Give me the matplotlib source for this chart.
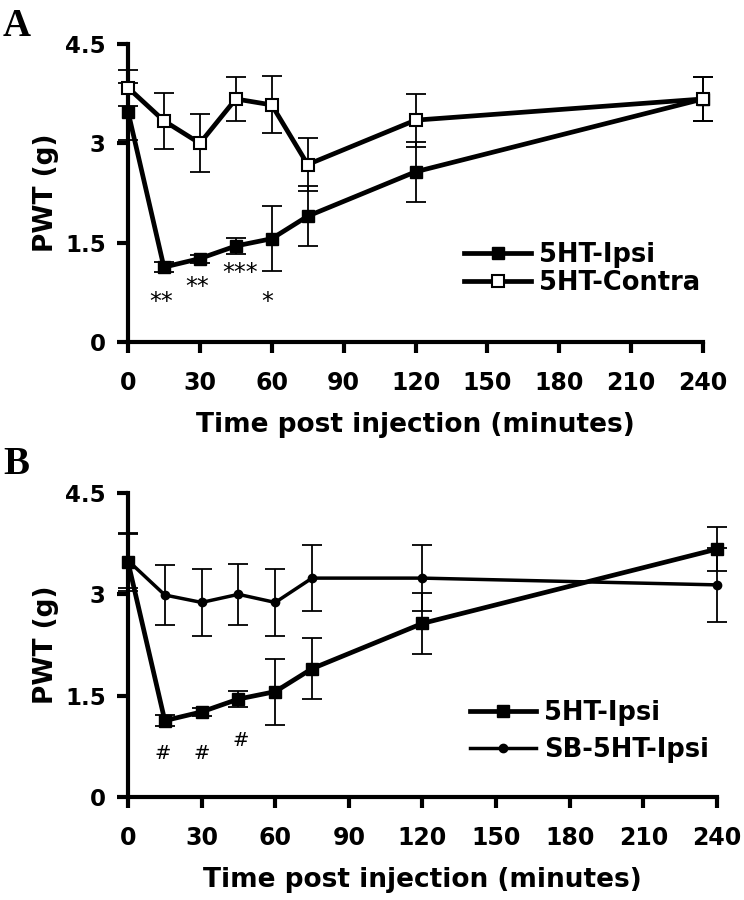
import matplotlib
matplotlib.use("Agg")
import matplotlib.pyplot as plt

# ---- data ----
time_min = [0, 15, 30, 45, 60, 75, 120, 240]
ipsi = [3.48, 1.13, 1.26, 1.45, 1.56, 1.90, 2.57, 3.67]
ipsi_err = [0.43, 0.08, 0.06, 0.12, 0.49, 0.45, 0.45, 0.33]
contra = [3.84, 3.34, 3.00, 3.67, 3.58, 2.68, 3.35, 3.67]
contra_err = [0.27, 0.42, 0.44, 0.33, 0.43, 0.40, 0.40, 0.33]
sb_ipsi = [3.50, 2.99, 2.88, 3.00, 2.88, 3.24, 3.24, 3.14]
sb_ipsi_err = [0.40, 0.44, 0.50, 0.45, 0.50, 0.49, 0.49, 0.55]

sig_a_labels = ["**", "**", "***", "*"]
sig_a_x = [14, 29, 47, 58]
sig_a_y = [0.60, 0.83, 1.04, 0.60]
sig_b_labels = ["#", "#", "#"]
sig_b_x = [14, 30, 46]
sig_b_y = [0.65, 0.65, 0.84]

xticks = [0, 30, 60, 90, 120, 150, 180, 210, 240]
yticks = [0, 1.5, 3, 4.5]
ytick_labels = ["0", "1.5", "3", "4.5"]

W, H = 744, 900
fig = plt.figure(figsize=(W / 100, H / 100), dpi=100)

def px_axes(l, r, t, b):
    return fig.add_axes([l / W, 1 - b / H, (r - l) / W, (b - t) / H])

axA = px_axes(128, 703, 44, 342)
axB = px_axes(128, 717, 493, 797)

def style(ax):
    ax.set_xlim(0, 240)
    ax.set_ylim(0, 4.5)
    for s in ["top", "right"]:
        ax.spines[s].set_visible(False)
    for s in ["left", "bottom"]:
        ax.spines[s].set_linewidth(3)
    ax.set_xticks(xticks)
    ax.set_xticklabels([str(x) for x in xticks], fontsize=17, fontweight="bold")
    ax.set_yticks(yticks)
    ax.set_yticklabels(ytick_labels, fontsize=16.5, fontweight="bold")
    ax.tick_params(axis="x", direction="out", length=8, width=3, pad=13)
    ax.tick_params(axis="y", direction="out", length=8, width=3, pad=8)
    ax.set_xlabel("Time post injection (minutes)", fontsize=19, fontweight="bold", labelpad=12)
    ax.set_ylabel("PWT (g)", fontsize=19, fontweight="bold", labelpad=4)

def err(ax, y, e):
    ax.errorbar(time_min, y, yerr=e, fmt="none", ecolor="black", elinewidth=1.3,
                capsize=7.5, capthick=1.3, clip_on=False, zorder=2)

# Panel A
style(axA)
err(axA, ipsi, ipsi_err)
err(axA, contra, contra_err)
axA.plot(time_min, ipsi, color="black", lw=3.4, marker="s", ms=8,
         mfc="black", mec="black", clip_on=False, zorder=3, label="5HT-Ipsi")
axA.plot(time_min, contra, color="black", lw=3.4, marker="s", ms=8,
         mfc="white", mec="black", mew=1.5, clip_on=False, zorder=4, label="5HT-Contra")
for lab, x, y in zip(sig_a_labels, sig_a_x, sig_a_y):
    axA.text(x, y, lab, ha="center", va="center", fontsize=17)
legA = axA.legend(loc="upper left", bbox_to_anchor=(0.585, 0.335), frameon=False,
                  prop={"size": 18.5, "weight": "bold"}, handlelength=2.6,
                  handletextpad=0.3, labelspacing=0.08, borderpad=0, borderaxespad=0)
fig.text(3 / W, 1 - 36 / H, "A", fontsize=28, fontweight="bold",
         family="Liberation Serif", ha="left", va="baseline")

# Panel B
style(axB)
err(axB, ipsi, ipsi_err)
err(axB, sb_ipsi, sb_ipsi_err)
axB.plot(time_min, ipsi, color="black", lw=3.4, marker="s", ms=8,
         mfc="black", mec="black", clip_on=False, zorder=3, label="5HT-Ipsi")
axB.plot(time_min, sb_ipsi, color="black", lw=2.5, marker="o", ms=6,
         mfc="black", mec="black", clip_on=False, zorder=4, label="SB-5HT-Ipsi")
for lab, x, y in zip(sig_b_labels, sig_b_x, sig_b_y):
    axB.text(x, y, lab, ha="center", va="center", fontsize=14)
legB = axB.legend(loc="upper left", bbox_to_anchor=(0.58, 0.318), frameon=False,
                  prop={"size": 18.5, "weight": "bold"}, handlelength=2.6,
                  handletextpad=0.3, labelspacing=0.42, borderpad=0, borderaxespad=0)
fig.text(3 / W, 1 - 474 / H, "B", fontsize=28, fontweight="bold",
         family="Liberation Serif", ha="left", va="baseline")

fig.savefig("out.png", dpi=100)
